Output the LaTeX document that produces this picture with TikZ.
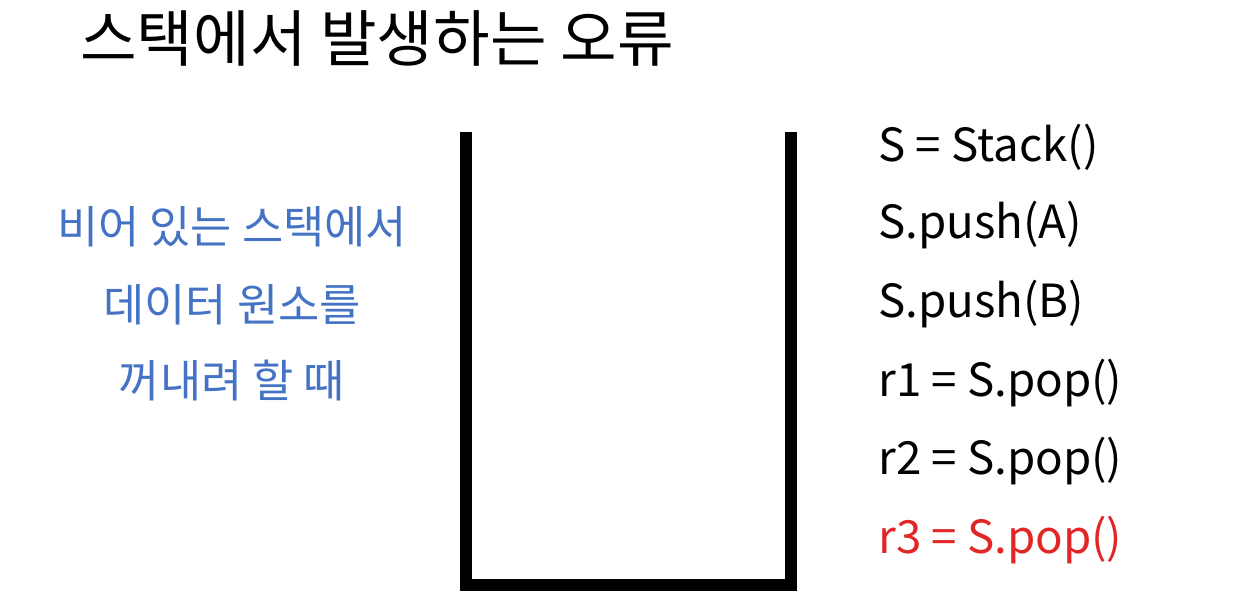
\documentclass[tikz,border=0pt]{standalone}
\usepackage{fontspec}
\setmainfont{Noto Sans CJK KR}
\definecolor{noteblue}{RGB}{68,114,196}
\definecolor{errred}{RGB}{226,38,38}
\tikzset{
    titletext/.style={anchor=base west, inner sep=0pt, font=\fontsize{35}{40}\selectfont},
    notetext/.style={anchor=base, inner sep=0pt, text=noteblue, font=\fontsize{25.5}{30}\selectfont},
    codeline/.style={anchor=base west, inner sep=0pt, font=\fontsize{26}{32}\selectfont},
    wall/.style={line width=6.8pt, line join=miter, line cap=butt}
}
\begin{document}
\begin{tikzpicture}[x=0.02cm, y=-0.02cm]
        \useasboundingbox (0,0) rectangle (1240,594);
        % title
        \node[titletext] (title) at (80,62) {스택에서 발생하는 오류};

        % note on the left
        \node[notetext] (note1) at (232,244) {비어 있는 스택에서};
        \node[notetext] (note2) at (232,321) {데이터 원소를};
        \node[notetext] (note3) at (232,398) {꺼내려 할 때};

        % the empty stack
        \draw[wall] (466,132) -- (466,585) -- (791,585) -- (791,132);

        % code lines
        \node[codeline] (c1) at (878,162) {S = Stack()};
        \node[codeline] (c2) at (878,239) {S.push(A)};
        \node[codeline] (c3) at (878,317) {S.push(B)};
        \node[codeline] (c4) at (878,396) {r1 = S.pop()};
        \node[codeline] (c5) at (878,474) {r2 = S.pop()};
        \node[codeline, text=errred] (c6) at (878,553) {r3 = S.pop()};
    \end{tikzpicture}
\end{document}
